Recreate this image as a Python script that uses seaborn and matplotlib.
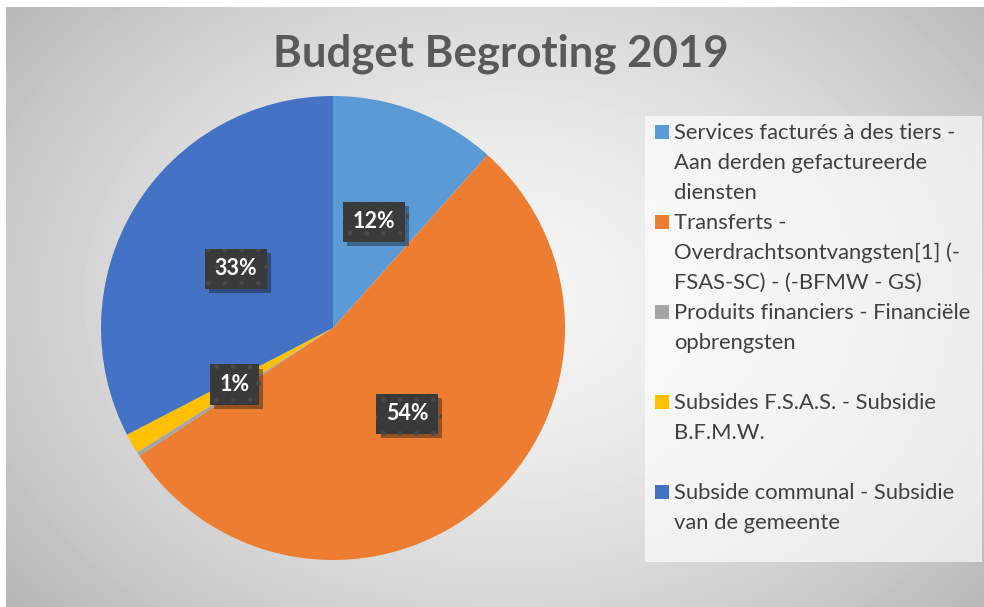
import numpy as np
import matplotlib.pyplot as plt
import matplotlib.patheffects as pe
import seaborn as sns
from matplotlib.patches import Rectangle

# data
title = "Budget Begroting 2019"
categories = [
    "Services facturés à des tiers -\nAan derden gefactureerde\ndiensten",
    "Transferts -\nOverdrachtsontvangsten[1] (-\nFSAS-SC) - (-BFMW - GS)",
    "Produits financiers - Financiële\nopbrengsten",
    "Subsides F.S.A.S. - Subsidie\nB.F.M.W.",
    "Subside communal - Subsidie\nvan de gemeente",
]
values = [11.6, 54.1, 0.3, 1.4, 32.6]
colors = ["#5B9BD5", "#ED7D31", "#A5A5A5", "#FFC000", "#4472C4"]

sns.set_theme(style="white")
plt.rcParams["font.family"] = ["Lato", "DejaVu Sans"]

W, H = 984, 607
fig = plt.figure(figsize=(W / 100, H / 100), dpi=100)
fig.patch.set_facecolor("white")

# radial gradient background
bg = fig.add_axes([6 / W, 0, 978 / W, 600 / H])
bg.axis("off")
yy, xx = np.mgrid[0:600, 0:978]
r = np.sqrt(((xx - 500) / 560.0) ** 2 + ((yy - 290) / 420.0) ** 2)
img = 244 - 50 * np.clip(r, 0, 1.2) ** 1.6
bg.imshow(img, cmap="gray", vmin=0, vmax=255, aspect="auto", interpolation="bilinear")

# legend panel
fig.patches.append(Rectangle((645 / W, 1 - 562 / H), 337 / W, 446 / H,
                             transform=fig.transFigure, facecolor="white",
                             alpha=0.65, edgecolor="none"))

# pie
cx, cy, R = 333, 328, 232
ax = fig.add_axes([(cx - R) / W, (H - cy - R) / H, 2 * R / W, 2 * R / H])
wedges, texts, autotexts = ax.pie(
    values, colors=colors, startangle=90, counterclock=False,
    autopct=lambda p: f"{p:.0f}%" if p >= 0.5 else "",
    pctdistance=0.49,
    wedgeprops=dict(linewidth=0),
    textprops=dict(color="white", fontsize=15.5, fontweight="bold"),
)
ax.set_xlim(-1, 1)
ax.set_ylim(-1, 1)
ax.axis("off")

for t in autotexts:
    if t.get_text():
        t.set_bbox(dict(boxstyle="square,pad=0.45", facecolor="#3a3a3a",
                        edgecolor="#4a4a4a", hatch=".", linewidth=0))
        t.get_bbox_patch().set_path_effects([
            pe.SimplePatchShadow(offset=(3, -3), alpha=0.4), pe.Normal()])

# title
fig.text(501 / W, 1 - 66 / H, title, ha="center", va="baseline",
         fontsize=31.5, fontweight="bold", color="#595959")

# legend
y0 = 139
for label, c in zip(categories, colors):
    fig.patches.append(Rectangle((655 / W, 1 - y0 / H), 14 / W, 14 / H,
                                 transform=fig.transFigure, facecolor=c,
                                 edgecolor="none"))
    for k, line in enumerate(label.split("\n")):
        fig.text(674 / W, 1 - (y0 + 30 * k) / H, line, ha="left",
                 va="baseline", fontsize=15.8, color="#404040")
    y0 += 90

fig.savefig("out.png", dpi=100)
